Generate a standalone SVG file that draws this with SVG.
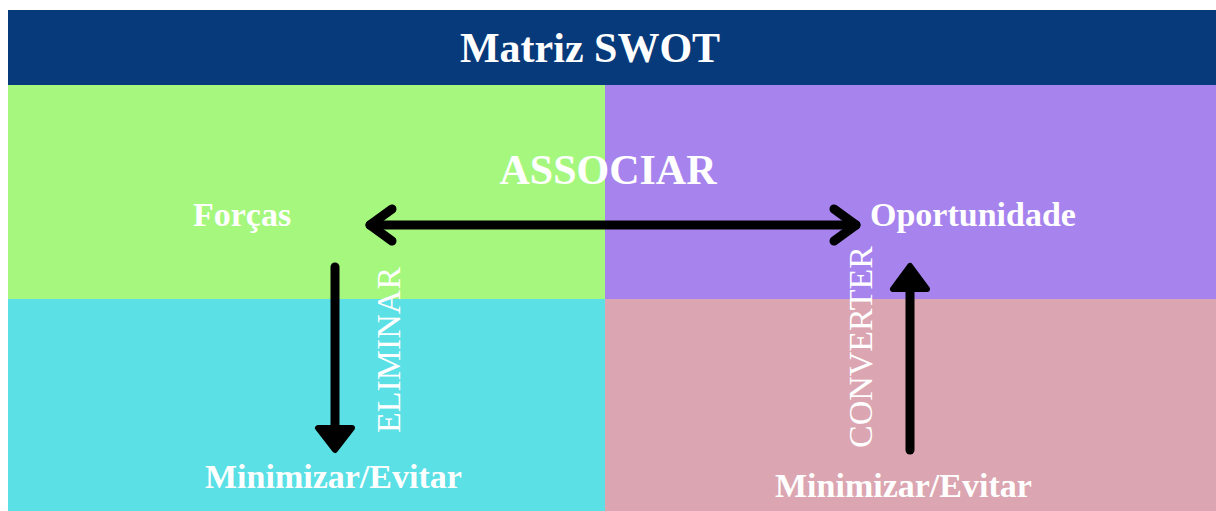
<svg xmlns="http://www.w3.org/2000/svg" width="1216" height="511" viewBox="0 0 1216 511">
  <style>
    .lbl { font-family: "Liberation Serif", "Times New Roman", serif; fill: #ffffff; }
    .b { font-weight: bold; }
    .big { font-size: 42px; }
    .mid { font-size: 34px; }
    .conn { stroke: #000; stroke-width: 9; stroke-linecap: round; stroke-linejoin: round; fill: none; }
    .head { fill: #000; stroke: #000; stroke-width: 6; stroke-linejoin: round; }
  </style>
  <rect x="0" y="0" width="1216" height="511" fill="#ffffff"/>

  <g id="header">
    <rect x="8" y="10" width="1208" height="75" fill="#073A7B"/>
    <text class="lbl b big" x="590" y="62" text-anchor="middle">Matriz SWOT</text>
  </g>

  <g id="forcas">
    <rect x="8" y="85" width="597" height="214" fill="#A5F87D"/>
    <text class="lbl b mid" x="193" y="226">Forças</text>
  </g>
  <g id="oportunidade">
    <rect x="605" y="85" width="611" height="214" fill="#A783EE"/>
    <text class="lbl b mid" x="870" y="226">Oportunidade</text>
  </g>
  <g id="fraquezas">
    <rect x="8" y="299" width="597" height="212" fill="#5BE0E6"/>
    <text class="lbl b mid" x="205" y="488">Minimizar/Evitar</text>
  </g>
  <g id="ameacas">
    <rect x="605" y="299" width="611" height="212" fill="#DBA6B1"/>
    <text class="lbl b mid" x="775" y="497">Minimizar/Evitar</text>
  </g>

  <g id="connectors">
    <!-- associar: double-headed horizontal -->
    <line class="conn" x1="370" y1="225" x2="856" y2="225"/>
    <polyline class="conn" points="392,209 370,225 392,241"/>
    <polyline class="conn" points="834,209 856,225 834,241"/>
    <!-- eliminar: downward -->
    <line class="conn" x1="335" y1="267" x2="335" y2="430"/>
    <polygon class="head" points="318,428 352,428 335,450"/>
    <!-- converter: upward -->
    <line class="conn" x1="910" y1="450" x2="910" y2="285"/>
    <polygon class="head" points="893,289 927,289 910,266"/>
  </g>

  <g id="labels">
    <text class="lbl b big" x="608" y="184" text-anchor="middle">ASSOCIAR</text>
    <text class="lbl mid" transform="translate(400,350) rotate(-90)" text-anchor="middle">ELIMINAR</text>
    <text class="lbl mid" transform="translate(872,347) rotate(-90)" text-anchor="middle">CONVERTER</text>
  </g>
</svg>
